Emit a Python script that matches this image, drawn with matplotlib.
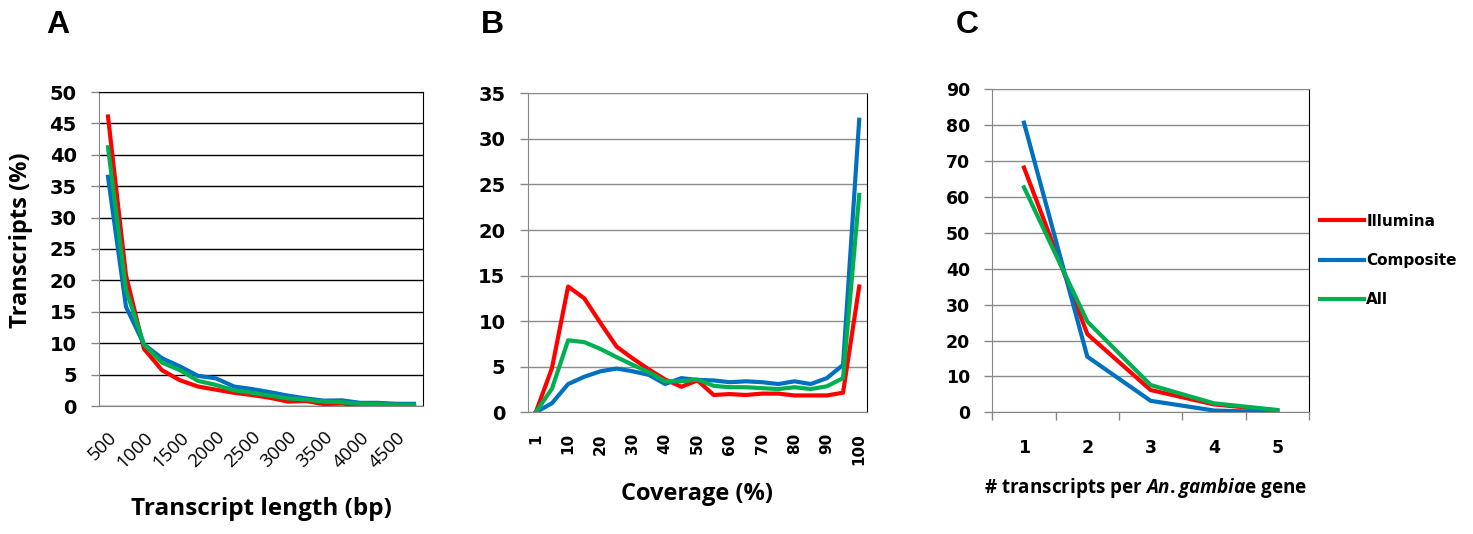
import numpy as np
import matplotlib
matplotlib.use('Agg')
import matplotlib.pyplot as plt

TITLE_FONT = 'Open Sans'
plt.rcParams['mathtext.fontset'] = 'custom'
plt.rcParams['mathtext.it'] = TITLE_FONT + ':italic:bold'
plt.rcParams['mathtext.rm'] = TITLE_FONT + ':bold'

########## Data ##########
series = ['Illumina', 'Composite', 'All']
colors = ['#ff0000', '#0070c0', '#00b050']

# A: transcript length (bp)
len_cats = [500, 750, 1000, 1250, 1500, 1750, 2000, 2250, 2500, 2750,
            3000, 3250, 3500, 3750, 4000, 4250, 4500, 4750]
len_illumina = [46.1, 20.8, 9.1, 5.7, 4.1, 3.1, 2.6, 2.1, 1.75, 1.3,
                0.7, 0.8, 0.3, 0.4, 0.1, 0.1, 0.05, 0.0]
len_composite = [36.5, 15.8, 9.8, 7.6, 6.3, 4.8, 4.4, 3.1, 2.7, 2.2,
                 1.65, 1.2, 0.85, 0.9, 0.5, 0.5, 0.35, 0.35]
len_all = [41.2, 18.5, 9.8, 6.9, 5.7, 4.0, 3.35, 2.5, 2.1, 1.65,
           1.2, 1.0, 0.7, 0.6, 0.35, 0.3, 0.2, 0.2]

# B: coverage (%)
cov_cats = [1, 5, 10, 15, 20, 25, 30, 35, 40, 45, 50,
            55, 60, 65, 70, 75, 80, 85, 90, 95, 100]
cov_illumina = [0.0, 4.85, 13.8, 12.5, 9.8, 7.2, 5.9, 4.7, 3.6, 2.8, 3.5,
                1.9, 2.0, 1.9, 2.05, 2.05, 1.85, 1.85, 1.85, 2.15, 13.8]
cov_composite = [0.0, 1.0, 3.1, 3.9, 4.5, 4.8, 4.5, 4.1, 3.1, 3.75, 3.55,
                 3.5, 3.3, 3.4, 3.3, 3.1, 3.4, 3.1, 3.75, 5.2, 32.1]
cov_all = [0.0, 2.6, 7.9, 7.7, 6.95, 6.05, 5.2, 4.4, 3.4, 3.4, 3.6,
           2.9, 2.75, 2.75, 2.65, 2.55, 2.75, 2.55, 2.85, 3.75, 23.85]

# C: transcripts per gene
gene_cats = [1, 2, 3, 4, 5]
gene_illumina = [68.2, 21.8, 6.2, 2.2, 0.5]
gene_composite = [80.7, 15.5, 3.2, 0.5, 0.0]
gene_all = [62.7, 25.3, 7.6, 2.5, 0.65]

W , H = 1473 , 534

def box(x0 , y0 , x1 , y1):
    # pixel box (top-left origin) -> figure fraction
    return [x0 / W , 1 - y1 / H , (x1 - x0) / W , (y1 - y0) / H]

def px(x , y):
    return x / W , 1 - y / H

def styleAxes(ax , gridColor , tickSize):
    ax.set_axisbelow(True)
    ax.yaxis.grid(True , color = gridColor , linewidth = 1)
    for side in ['left' , 'bottom']:
        ax.spines[side].set_color('#868686')
    ax.spines['top'].set_color(gridColor)
    ax.spines['right'].set_color('#000000')
    ax.tick_params(axis = 'y' , length = 6 , width = 1 , color = '#868686' , pad = 10)
    for lab in ax.get_yticklabels():
        lab.set_fontfamily('DejaVu Sans')
        lab.set_fontweight('bold')
        lab.set_fontsize(tickSize)

fig = plt.figure(figsize = [W / 100 , H / 100] , dpi = 100)

########## Panel A ##########
axA = fig.add_axes(box(99 , 92 , 423 , 406))
xA = np.arange(len(len_cats))
for vals , c in zip([len_illumina , len_composite , len_all] , colors):
    axA.plot(xA , vals , color = c , linewidth = 3)
axA.set_xlim(-0.5 , len(len_cats) - 0.5)
axA.set_ylim(0 , 50)
axA.set_yticks(np.arange(0 , 51 , 5))
axA.set_xticks(xA[::2])
axA.set_xticklabels([str(v) for v in len_cats[::2]] , rotation = 45 , ha = 'right' ,
                    va = 'top' , rotation_mode = 'anchor' , fontfamily = TITLE_FONT , fontsize = 13.5)
axA.tick_params(axis = 'x' , length = 0 , pad = 16)
styleAxes(axA , '#000000' , 14)

########## Panel B ##########
axB = fig.add_axes(box(527.7 , 93.3 , 867.3 , 412.3))
xB = np.arange(len(cov_cats))
for vals , c in zip([cov_illumina , cov_composite , cov_all] , colors):
    axB.plot(xB , vals , color = c , linewidth = 3)
axB.set_xlim(-0.5 , len(cov_cats) - 0.5)
axB.set_ylim(0 , 35)
axB.set_yticks(np.arange(0 , 36 , 5))
axB.set_xticks(xB[::2])
axB.set_xticklabels([str(v) for v in cov_cats[::2]] , rotation = 90 , ha = 'center' , va = 'top' ,
                    fontfamily = 'DejaVu Sans' , fontweight = 'bold' , fontsize = 11)
axB.tick_params(axis = 'x' , length = 0 , pad = 15)
styleAxes(axB , '#8c8c8c' , 14)

########## Panel C ##########
axC = fig.add_axes(box(992.3 , 89.3 , 1309 , 412.3))
for vals , name , c in zip([gene_illumina , gene_composite , gene_all] , series , colors):
    axC.plot(gene_cats , vals , color = c , linewidth = 3 , label = name)
axC.set_xlim(0.5 , len(gene_cats) + 0.5)
axC.set_ylim(0 , 90)
axC.set_yticks(np.arange(0 , 91 , 10))
axC.set_xticks(gene_cats)
axC.set_xticklabels([str(v) for v in gene_cats] , fontfamily = 'DejaVu Sans' ,
                    fontweight = 'bold' , fontsize = 12.5)
axC.set_xticks(np.arange(0.5 , len(gene_cats) + 1 , 1) , minor = True)
axC.tick_params(axis = 'x' , which = 'major' , length = 0 , pad = 19)
axC.tick_params(axis = 'x' , which = 'minor' , length = 6 , width = 1 , color = '#868686')
styleAxes(axC , '#8c8c8c' , 12.5)
leg = axC.legend(loc = 'center left' , bbox_to_anchor = (0.99 , 0.47) , frameon = False ,
                 handlelength = 2.9 , handletextpad = 0.15 , labelspacing = 1.6 ,
                 prop = {'family' : 'DejaVu Sans' , 'weight' : 'bold' , 'size' : 11})

########## Titles ##########
fig.text(*px(21 , 240) , 'Transcripts (%)' , rotation = 90 , ha = 'center' , va = 'center' ,
         fontfamily = TITLE_FONT , fontweight = 'bold' , fontsize = 17)
fig.text(*px(261 , 509) , 'Transcript length (bp)' , ha = 'center' , va = 'center' ,
         fontfamily = TITLE_FONT , fontweight = 'bold' , fontsize = 17.5)
fig.text(*px(697 , 494) , 'Coverage (%)' , ha = 'center' , va = 'center' ,
         fontfamily = TITLE_FONT , fontweight = 'bold' , fontsize = 17)
fig.text(*px(1146 , 488) , r'# transcripts per $\mathit{An.gambia}$e gene' , ha = 'center' , va = 'center' ,
         fontfamily = TITLE_FONT , fontweight = 'bold' , fontsize = 13.6)

for letter , x in zip(['A' , 'B' , 'C'] , [58 , 492 , 967]):
    fig.text(*px(x , 25) , letter , ha = 'center' , va = 'center' ,
             fontfamily = 'Liberation Sans' , fontweight = 'bold' , fontsize = 23)

fig.savefig('out.png' , dpi = 100)
